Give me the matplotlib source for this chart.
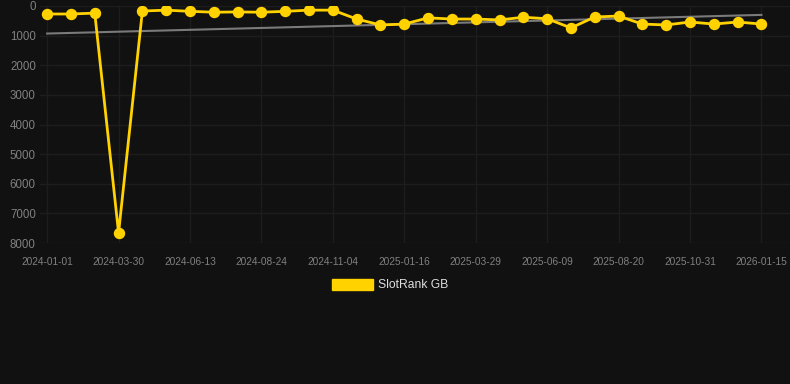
import matplotlib
matplotlib.use("Agg")
import matplotlib.pyplot as plt

# donnees
labels = ["2024-01-01", "2024-03-30", "2024-06-13", "2024-08-24", "2024-11-04",
          "2025-01-16", "2025-03-29", "2025-06-09", "2025-08-20", "2025-10-31",
          "2026-01-15"]
rang = [270, 270, 240, 7660, 170, 140, 180, 210, 200, 210, 180, 140, 140, 440, 640,
        610, 400, 440, 440, 470, 380, 430, 740, 370, 340, 610, 640, 540, 610, 540, 610]
tendance = [930, 300]
yticks = [0, 1000, 2000, 3000, 4000, 5000, 6000, 7000, 8000]

fond = "#111111"
jaune = "#FFD200"

plt.rcParams['font.family'] = ['Liberation Sans', 'DejaVu Sans']

fig = plt.figure(figsize=(7.9, 3.84), dpi=100, facecolor=fond)
ax = fig.add_axes([40/790, 1 - 243/384, 750/790, 237/384], facecolor=fond)

x = list(range(len(rang)))
ax.plot([x[0], x[-1]], tendance, color="#7a7a7a", lw=1.5, zorder=2)
ax.plot(x, rang, color=jaune, lw=2.0, marker="o", ms=7.2, zorder=3,
        label="SlotRank GB")

ax.set_xlim(-0.3, 31.2)
ax.set_ylim(8000, 0)
ax.set_xticks(x[::3])
ax.set_xticklabels(labels)
ax.set_yticks(yticks)
ax.grid(True, color="#1d1d1d", lw=1.0)
ax.set_axisbelow(True)
for s in ax.spines.values():
    s.set_visible(False)
ax.tick_params(length=0, colors="#808080", labelsize=7.3)
ax.tick_params(axis="x", pad=10)
ax.tick_params(axis="y", pad=3, labelsize=8.3)

leg = fig.legend(handles=[plt.Rectangle((0, 0), 1, 1, color=jaune)],
                 labels=["SlotRank GB"], loc="center", bbox_to_anchor=(390/790, 1 - 285/384),
                 frameon=False, fontsize=8.7, handlelength=3.4, handleheight=1.0,
                 handletextpad=0.45)
for t in leg.get_texts():
    t.set_color("#dddddd")

fig.savefig("out.png", dpi=100, facecolor=fond)
